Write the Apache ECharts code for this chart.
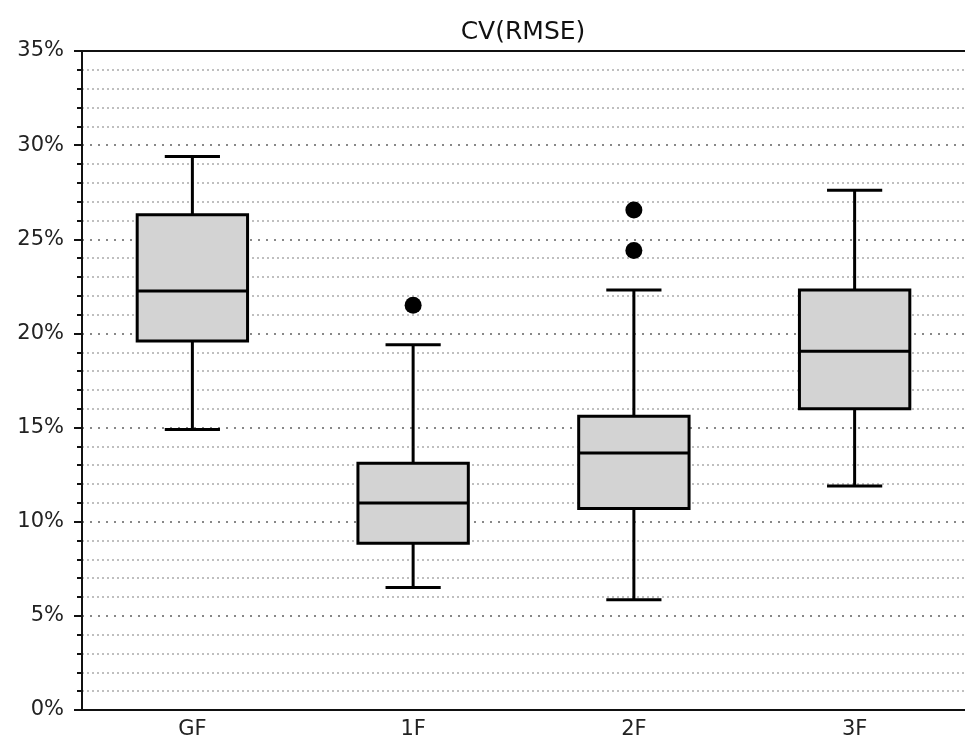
<!DOCTYPE html>
<html>
<head>
<meta charset="utf-8">
<script src="https://cdn.jsdelivr.net/npm/echarts@6/dist/echarts.min.js"></script>
<style>
  html, body { margin: 0; padding: 0; background: #fff; }
  #chart { width: 965px; height: 742px; }
</style>
</head>
<body>
<div id="chart"></div>
<script>
// categories and box statistics (in %)
const categories = ['GF', '1F', '2F', '3F']
const whiskerLow = [14.9, 6.5, 5.85, 11.9]
const q1 = [19.6, 8.85, 10.7, 16.0]
const median = [22.25, 11.0, 13.65, 19.05]
const q3 = [26.3, 13.1, 15.6, 22.3]
const whiskerHigh = [29.4, 19.4, 22.3, 27.6]
// outliers: [category index, value]
const outliers = [[1, 21.5], [2, 26.55], [2, 24.4]]

const boxData = categories.map((c, i) => [i, whiskerLow[i], q1[i], median[i], q3[i], whiskerHigh[i]])

const chart = echarts.init(document.getElementById('chart'))
const font = 'DejaVu Sans'
const lw = 3

function renderBox(params, api) {
  const x = api.value(0)
  const pLow = api.coord([x, api.value(1)])
  const pQ1 = api.coord([x, api.value(2)])
  const pMed = api.coord([x, api.value(3)])
  const pQ3 = api.coord([x, api.value(4)])
  const pHigh = api.coord([x, api.value(5)])
  const band = api.size([1, 0])[0]
  const half = band * 0.25
  const cap = half / 2
  const cx = pMed[0]
  const line = { stroke: '#000', lineWidth: lw }
  return {
    type: 'group',
    children: [
      { type: 'line', shape: { x1: cx, y1: pQ3[1], x2: cx, y2: pHigh[1] }, style: line },
      { type: 'line', shape: { x1: cx, y1: pQ1[1], x2: cx, y2: pLow[1] }, style: line },
      { type: 'line', shape: { x1: cx - cap, y1: pHigh[1], x2: cx + cap, y2: pHigh[1] }, style: line },
      { type: 'line', shape: { x1: cx - cap, y1: pLow[1], x2: cx + cap, y2: pLow[1] }, style: line },
      {
        type: 'rect',
        shape: { x: cx - half, y: pQ3[1], width: half * 2, height: pQ1[1] - pQ3[1] },
        style: { fill: '#d3d3d3', stroke: '#000', lineWidth: lw }
      },
      { type: 'line', shape: { x1: cx - half, y1: pMed[1], x2: cx + half, y2: pMed[1] }, style: line }
    ]
  }
}

chart.setOption({
  animation: false,
  title: {
    text: 'CV(RMSE)',
    left: 518,
    textAlign: 'center',
    top: 15,
    textStyle: { fontFamily: font, fontSize: 25, fontWeight: 'normal', color: '#111' }
  },
  grid: {
    left: 82,
    top: 51,
    width: 884,
    height: 659
  },
  xAxis: [
    {
      type: 'category',
      data: categories,
      z: 5,
      axisLine: { lineStyle: { color: '#111', width: 2 } },
      axisTick: { alignWithLabel: true, length: 6, lineStyle: { color: '#111', width: 2 } },
      axisLabel: { fontFamily: font, fontSize: 21, color: '#222', margin: 9 },
      splitLine: { show: false }
    },
    {
      type: 'category',
      data: categories,
      position: 'top',
      z: 5,
      axisLine: { lineStyle: { color: '#111', width: 2 } },
      axisTick: { show: false },
      axisLabel: { show: false },
      splitLine: { show: false }
    }
  ],
  yAxis: {
    type: 'value',
    min: 0,
    max: 35,
    interval: 5,
    z: 1,
    axisLine: { show: true, lineStyle: { color: '#111', width: 2 } },
    axisTick: { show: true, length: 8, lineStyle: { color: '#111', width: 2 } },
    minorTick: { show: true, splitNumber: 5, length: 5, lineStyle: { color: '#111', width: 2 } },
    axisLabel: { fontFamily: font, fontSize: 21, color: '#222', margin: 18, formatter: '{value}%' },
    splitLine: { show: true, lineStyle: { color: '#888', width: 2, type: [2, 6] } },
    minorSplitLine: { show: true, lineStyle: { color: '#aaa', width: 1.5, type: [2, 3] } }
  },
  series: [
    {
      type: 'custom',
      renderItem: renderBox,
      encode: { x: 0, y: [1, 2, 3, 4, 5] },
      data: boxData,
      z: 3
    },
    {
      type: 'scatter',
      data: outliers,
      symbolSize: 17,
      itemStyle: { color: '#000', opacity: 1 },
      z: 4
    }
  ]
})
</script>
</body>
</html>
